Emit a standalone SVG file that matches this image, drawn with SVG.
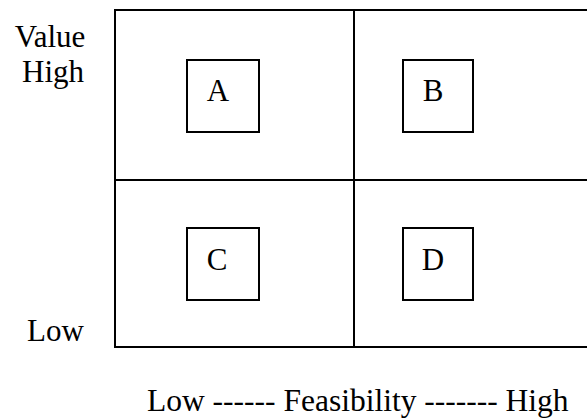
<svg xmlns="http://www.w3.org/2000/svg" width="587" height="418" viewBox="0 0 587 418">
  <style>
    .frame { fill: none; stroke: #000; stroke-width: 2; }
    .box { fill: #fff; stroke: #000; stroke-width: 2; }
    .lbl { font-family: "Liberation Serif", "Times New Roman", "DejaVu Serif", serif; font-size: 31px; fill: #000; }
    .mid { text-anchor: middle; }
    .axis { font-size: 31.5px; }
  </style>
  <rect width="587" height="418" fill="#fff"/>

  <!-- quadrant grid -->
  <g id="grid">
    <rect class="frame" x="115" y="10" width="500" height="337"/>
    <line class="frame" x1="354" y1="10" x2="354" y2="347"/>
    <line class="frame" x1="115" y1="180" x2="600" y2="180"/>
  </g>

  <!-- axis labels -->
  <g id="axis-labels">
    <text class="lbl mid" x="50" y="47">Value</text>
    <text class="lbl mid" x="53" y="82">High</text>
    <text class="lbl" x="27" y="341">Low</text>
    <text class="lbl axis" x="147" y="411">Low ------ Feasibility ------- High</text>
  </g>

  <g id="connectors"></g>

  <g id="node-a">
    <rect class="box" x="187" y="60" width="72" height="72"/>
    <text class="lbl mid" x="218" y="101">A</text>
  </g>
  <g id="node-b">
    <rect class="box" x="403" y="60" width="70" height="72"/>
    <text class="lbl mid" x="433" y="101">B</text>
  </g>
  <g id="node-c">
    <rect class="box" x="187" y="228" width="72" height="72"/>
    <text class="lbl mid" x="217" y="270">C</text>
  </g>
  <g id="node-d">
    <rect class="box" x="403" y="228" width="70" height="72"/>
    <text class="lbl mid" x="433" y="270">D</text>
  </g>
</svg>
